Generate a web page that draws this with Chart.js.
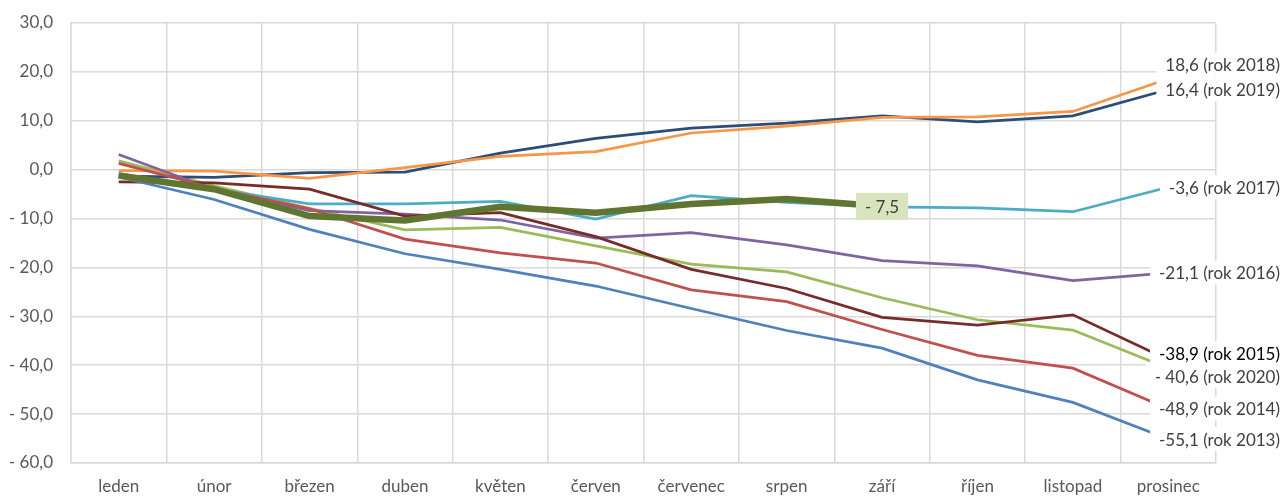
<!DOCTYPE html>
<html>
<head>
<meta charset="utf-8">
<script src="https://cdn.jsdelivr.net/npm/chart.js@4.4.0/dist/chart.umd.min.js"></script>
<style>
  html, body { margin: 0; padding: 0; background: #fff; }
  #wrap { width: 1282px; height: 496px; position: relative; }
</style>
</head>
<body>
<div id="wrap"><canvas id="chart"></canvas></div>
<script>
// Data
const months = ['leden', 'únor', 'březen', 'duben', 'květen', 'červen', 'červenec', 'srpen', 'září', 'říjen', 'listopad', 'prosinec'];
const yTicks = [30, 20, 10, 0, -10, -20, -30, -40, -50, -60];

const y2013 = [-1.5, -6.1, -12.2, -17.2, -20.4, -23.8, -28.4, -32.9, -36.5, -43.0, -47.6, -55.1];
const y2014 = [1.3, -3.8, -8.0, -14.2, -17.0, -19.1, -24.6, -27.0, -32.7, -38.0, -40.6, -48.9];
const y2015 = [-2.5, -2.7, -4.0, -9.5, -8.8, -13.7, -20.4, -24.3, -30.2, -31.8, -29.7, -38.9];
const y2016 = [3.1, -4.1, -8.4, -9.1, -10.3, -14.0, -12.9, -15.4, -18.6, -19.7, -22.7, -21.1];
const y2017 = [-0.8, -4.0, -7.0, -7.0, -6.5, -10.1, -5.3, -6.7, -7.6, -7.8, -8.6, -3.6];
const y2018 = [-0.2, -0.3, -1.8, 0.4, 2.7, 3.7, 7.5, 8.9, 10.7, 10.8, 11.9, 18.6];
const y2019 = [-1.3, -1.6, -0.6, -0.5, 3.4, 6.4, 8.5, 9.5, 11.0, 9.8, 11.0, 16.4];
const y2020 = [1.8, -3.3, -7.9, -12.3, -11.8, -15.6, -19.3, -20.9, -26.2, -30.7, -32.8, -40.6];
const y2021 = [-1.2, -4.0, -9.5, -10.4, -7.6, -8.8, -7.0, -6.0, -7.5, null, null, null];

// number format like the original: "- 10,0"
function fmt(v, digits, spaced) {
    const s = Math.abs(v).toFixed(digits).replace('.', ',');
    if (v < 0) return (spaced ? '- ' : '-') + s;
    return s;
}

// series styling (shift = small vertical nudge of the end label)
const series = [
    { year: '2013', data: y2013, color: '#4F81BD', shift: 0 },
    { year: '2014', data: y2014, color: '#C0504D', shift: 0 },
    { year: '2015', data: y2015, color: '#772C2A', shift: -6, dark: true },
    { year: '2016', data: y2016, color: '#8064A2', shift: 0 },
    { year: '2017', data: y2017, color: '#4BACC6', shift: 0 },
    { year: '2018', data: y2018, color: '#F79646', shift: -14 },
    { year: '2019', data: y2019, color: '#2C4D75', shift: 0 },
    { year: '2020', data: y2020, color: '#9BBB59', shift: 8, spaced: true },
    { year: '2021', data: y2021, color: '#5F7530', width: 6.5, boxed: true }
];

const FONT = 'Lato, "Liberation Sans", sans-serif';

// End-of-line labels
const endLabels = {
    id: 'endLabels',
    afterDatasetsDraw(chart) {
        const ctx = chart.ctx;
        ctx.save();
        ctx.font = '17px ' + FONT;
        ctx.textBaseline = 'middle';
        series.forEach((s, i) => {
            const meta = chart.getDatasetMeta(i);
            let idx = s.data.length - 1;
            while (idx >= 0 && s.data[idx] === null) idx--;
            const pt = meta.data[idx];
            if (s.boxed) {
                const txt = fmt(s.data[idx], 1, true);
                const w = ctx.measureText(txt).width + 18;
                const h = 27;
                ctx.fillStyle = '#D7E4BD';
                ctx.fillRect(pt.x - w / 2, pt.y - h / 2, w, h);
                ctx.fillStyle = '#404040';
                ctx.textAlign = 'center';
                ctx.fillText(txt, pt.x, pt.y + 1);
                return;
            }
            const txt = fmt(s.data[idx], 1, s.spaced) + ' (rok ' + s.year + ')';
            const right = chart.width - 2;
            const w = ctx.measureText(txt).width;
            const y = pt.y + s.shift;
            ctx.fillStyle = '#fff';
            ctx.fillRect(right - w - 9, y - 12, w + 11, 24);
            ctx.fillStyle = s.dark ? '#000' : '#404040';
            ctx.textAlign = 'right';
            ctx.fillText(txt, right, y + 1);
        });
        ctx.restore();
    }
};

const ctx = document.getElementById('chart').getContext('2d');
new Chart(ctx, {
    type: 'line',
    data: {
        labels: months,
        datasets: series.map((s, i) => ({
            label: s.year,
            data: s.data,
            borderColor: s.color,
            backgroundColor: s.color,
            borderWidth: s.width || 2.75,
            pointRadius: 0,
            tension: 0,
            fill: false,
            order: s.boxed ? 0 : i + 1
        }))
    },
    options: {
        responsive: true,
        maintainAspectRatio: false,
        animation: false,
        layout: { padding: { top: 23, right: 66, left: 0, bottom: 0 } },
        plugins: {
            legend: { display: false },
            tooltip: { enabled: false }
        },
        scales: {
            x: {
                offset: true,
                grid: { offset: true, color: '#D9D9D9', lineWidth: 1.5, drawTicks: false },
                border: { color: '#D9D9D9', width: 1.5 },
                ticks: { color: '#595959', font: { family: FONT, size: 17 }, padding: 13, maxRotation: 0, autoSkip: false },
                afterFit: s => { s.height = 33; s.paddingLeft = 0; s.paddingRight = 0; }
            },
            y: {
                min: -60,
                max: 30,
                afterBuildTicks: s => { s.ticks = yTicks.map(v => ({ value: v })); },
                grid: { color: '#D9D9D9', lineWidth: 1.5, drawTicks: false },
                border: { color: '#D9D9D9', width: 1.5 },
                ticks: {
                    color: '#595959',
                    font: { family: FONT, size: 17 },
                    padding: 18,
                    callback: v => fmt(v, 1, true)
                },
                afterFit: s => { s.width = 71; s.paddingTop = 0; s.paddingBottom = 0; }
            }
        }
    },
    plugins: [endLabels]
});
</script>
</body>
</html>
